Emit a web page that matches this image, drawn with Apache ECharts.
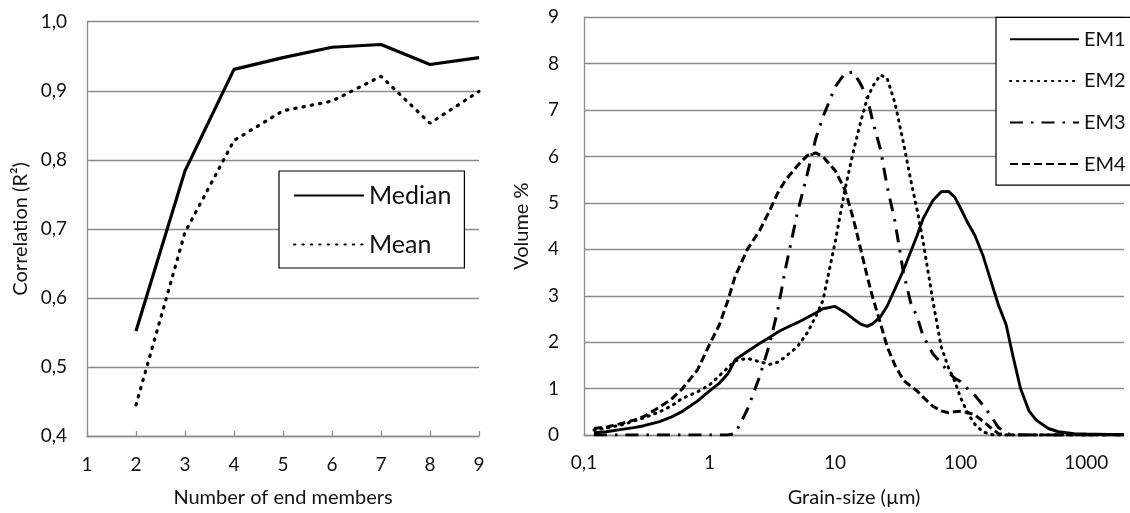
<!DOCTYPE html>
<html>
<head>
<meta charset="utf-8">
<script src="https://cdn.jsdelivr.net/npm/echarts@6/dist/echarts.min.js"></script>
<style>
  html, body { margin: 0; padding: 0; background: #fff; }
  #chart { width: 1130px; height: 513px; }
</style>
</head>
<body>
<div id="chart"></div>
<script>
// Left panel: goodness of fit against the number of end members
const endMembers = [2, 3, 4, 5, 6, 7, 8, 9];
const medianR2 = [0.552, 0.784, 0.931, 0.948, 0.963, 0.967, 0.938, 0.948];
const meanR2   = [0.445, 0.695, 0.828, 0.871, 0.885, 0.921, 0.853, 0.899];

// Right panel: end-member grain-size distributions (µm, volume %)
const grainSize = [0.12, 0.15, 0.2, 0.25, 0.3, 0.4, 0.5, 0.6, 0.8, 1,
  1.2, 1.4, 1.6, 2, 2.5, 3, 3.5, 4, 5, 6, 7, 8, 10,
  12, 14, 16, 18, 20, 23, 26, 30, 35, 40, 45, 50, 60, 70, 80, 90, 100,
  115, 130, 150, 175, 200, 230, 260, 300, 350, 400, 500, 600, 800, 1000, 1500, 2000];
const em1 = [0.05, 0.07, 0.12, 0.16, 0.2, 0.29, 0.39, 0.5, 0.73, 0.95,
  1.12, 1.32, 1.62, 1.8, 1.97, 2.1, 2.22, 2.3, 2.42, 2.53, 2.63, 2.72, 2.77,
  2.64, 2.5, 2.39, 2.34, 2.4, 2.55, 2.78, 3.15, 3.55, 3.95, 4.3, 4.65, 5.05, 5.24, 5.25, 5.12, 4.88,
  4.55, 4.3, 3.88, 3.3, 2.8, 2.38, 1.72, 1.0, 0.52, 0.32, 0.14, 0.07, 0.03, 0.02, 0.01, 0.01];
const em2 = [0.11, 0.15, 0.22, 0.3, 0.37, 0.5, 0.63, 0.78, 0.93, 1.08,
  1.28, 1.45, 1.6, 1.65, 1.58, 1.52, 1.57, 1.68, 1.9, 2.2, 2.55, 2.9, 4.15,
  5.3, 6.12, 6.75, 7.25, 7.52, 7.76, 7.68, 7.15, 6.3, 5.5, 4.85, 4.2, 2.9, 1.9, 1.45, 1.15, 0.8,
  0.45, 0.23, 0.07, 0.01, 0, 0, 0, 0, 0, 0, 0, 0, 0, 0, 0, 0];
const em3 = [0, 0, 0, 0, 0, 0, 0, 0, 0, 0,
  0, 0, 0.03, 0.55, 1.25, 1.95, 2.7, 3.55, 4.78, 5.62, 6.38, 6.85, 7.5,
  7.8, 7.82, 7.56, 7.27, 6.75, 6.15, 5.35, 4.6, 3.5, 2.85, 2.55, 2.15, 1.75, 1.55, 1.35, 1.22, 1.15,
  0.98, 0.85, 0.65, 0.4, 0.16, 0.04, 0, 0, 0, 0, 0, 0, 0, 0, 0, 0];
const em4 = [0.14, 0.17, 0.25, 0.32, 0.4, 0.6, 0.78, 0.98, 1.4, 1.95,
  2.38, 2.9, 3.42, 4.0, 4.4, 4.83, 5.22, 5.48, 5.8, 6.02, 6.08, 6.0, 5.7,
  5.28, 4.65, 4.0, 3.42, 2.95, 2.4, 1.9, 1.5, 1.18, 1.05, 0.95, 0.82, 0.62, 0.52, 0.48, 0.5, 0.51,
  0.48, 0.43, 0.3, 0.15, 0.03, 0, 0, 0, 0, 0, 0, 0, 0, 0, 0, 0];

const FONT = 'Lato';
const INK = '#111';
const GRID_GRAY = '#8c8c8c';

const pairs = (xs, ys) => xs.map((x, i) => [x, ys[i]]);
const decimalComma = v => String(+(+v).toPrecision(6)).replace('.', ',');

const chart = echarts.init(document.getElementById('chart'), null, { renderer: 'canvas' });

const legendBase = {
  orient: 'vertical',
  align: 'left',
  borderColor: '#000',
  borderWidth: 1.2,
  backgroundColor: '#fff',
  itemStyle: { opacity: 0 }
};

chart.setOption({
  animation: false,
  backgroundColor: '#fff',
  textStyle: { fontFamily: FONT, color: INK },
  grid: [
    { left: 87, top: 21.7, width: 392, height: 416.8 },
    { left: 584, top: 17.3, width: 540, height: 420 }
  ],
  legend: [
    Object.assign({}, legendBase, {
      data: ['Median', 'Mean'],
      left: 279, top: 171,
      padding: [12, 13, 11, 14],
      itemWidth: 70, itemHeight: 24, itemGap: 24,
      textStyle: { fontFamily: FONT, fontSize: 25, color: INK }
    }),
    Object.assign({}, legendBase, {
      data: ['EM1', 'EM2', 'EM3', 'EM4'],
      left: 996, top: 17.3,
      padding: [12, 30, 11, 13],
      itemWidth: 69, itemHeight: 20, itemGap: 21.6,
      textStyle: { fontFamily: FONT, fontSize: 20, color: INK }
    })
  ],
  xAxis: [
    {
      gridIndex: 0, type: 'value', min: 1, max: 9, interval: 1,
      name: 'Number of end members', nameLocation: 'middle', nameGap: 52,
      nameTextStyle: { fontFamily: FONT, fontSize: 20, color: INK },
      axisLine: { show: true, lineStyle: { color: GRID_GRAY, width: 1.3 } },
      axisTick: { show: true, inside: true, length: 5, lineStyle: { color: GRID_GRAY, width: 1.3 } },
      axisLabel: { fontFamily: FONT, fontSize: 19, color: INK, margin: 19 },
      splitLine: { show: false }
    },
    {
      gridIndex: 1, type: 'log', logBase: 10, min: 0.1, max: 2000,
      name: 'Grain-size (µm)', nameLocation: 'middle', nameGap: 53,
      nameTextStyle: { fontFamily: FONT, fontSize: 20, color: INK },
      axisLine: { show: true, lineStyle: { color: GRID_GRAY, width: 1.3 } },
      axisTick: { show: false },
      minorTick: { show: false },
      axisLabel: {
        fontFamily: FONT, fontSize: 19, color: INK, margin: 18,
        formatter: v => {
          const l = Math.log10(v);
          return Math.abs(l - Math.round(l)) < 1e-6 ? decimalComma(v) : '';
        }
      },
      splitLine: { show: false }
    }
  ],
  yAxis: [
    {
      gridIndex: 0, type: 'value', min: 0.4, max: 1.0, interval: 0.1,
      name: 'Correlation (R²)', nameLocation: 'middle', nameGap: 56,
      nameTextStyle: { fontFamily: FONT, fontSize: 20, color: INK },
      axisLine: { show: true, lineStyle: { color: GRID_GRAY, width: 1.3 } },
      axisTick: { show: false },
      axisLabel: { fontFamily: FONT, fontSize: 19, color: INK, margin: 20,
        formatter: v => (+v).toFixed(1).replace('.', ',') },
      splitLine: { show: true, lineStyle: { color: GRID_GRAY, width: 1.3 } }
    },
    {
      gridIndex: 1, type: 'value', min: 0, max: 9, interval: 1,
      name: 'Volume %', nameLocation: 'middle', nameGap: 52,
      nameTextStyle: { fontFamily: FONT, fontSize: 20, color: INK },
      axisLine: { show: true, lineStyle: { color: GRID_GRAY, width: 1.3 } },
      axisTick: { show: false },
      axisLabel: { fontFamily: FONT, fontSize: 19, color: INK, margin: 25 },
      splitLine: { show: true, lineStyle: { color: GRID_GRAY, width: 1.3 } }
    }
  ],
  series: [
    {
      name: 'Median', type: 'line', xAxisIndex: 0, yAxisIndex: 0,
      data: pairs(endMembers, medianR2), symbol: 'none',
      lineStyle: { color: '#000', width: 3.2, type: 'solid' },
      itemStyle: { color: '#000' }
    },
    {
      name: 'Mean', type: 'line', xAxisIndex: 0, yAxisIndex: 0,
      data: pairs(endMembers, meanR2), symbol: 'none',
      lineStyle: { color: '#000', width: 3.2, type: [1.4, 7], cap: 'round' },
      itemStyle: { color: '#000' }
    },
    {
      name: 'EM1', type: 'line', xAxisIndex: 1, yAxisIndex: 1,
      data: pairs(grainSize, em1), symbol: 'none', z: 5,
      lineStyle: { color: '#000', width: 2.9, type: 'solid' },
      itemStyle: { color: '#000' }
    },
    {
      name: 'EM2', type: 'line', xAxisIndex: 1, yAxisIndex: 1,
      data: pairs(grainSize, em2), symbol: 'none',
      lineStyle: { color: '#000', width: 3, type: [1.2, 5.8], cap: 'round' },
      itemStyle: { color: '#000' }
    },
    {
      name: 'EM3', type: 'line', xAxisIndex: 1, yAxisIndex: 1,
      data: pairs(grainSize, em3), symbol: 'none',
      lineStyle: { color: '#000', width: 3, type: [13, 8, 2.5, 8], cap: 'butt' },
      itemStyle: { color: '#000' }
    },
    {
      name: 'EM4', type: 'line', xAxisIndex: 1, yAxisIndex: 1,
      data: pairs(grainSize, em4), symbol: 'none',
      lineStyle: { color: '#000', width: 3, type: [8, 4], cap: 'butt' },
      itemStyle: { color: '#000' }
    }
  ]
});
</script>
</body>
</html>
